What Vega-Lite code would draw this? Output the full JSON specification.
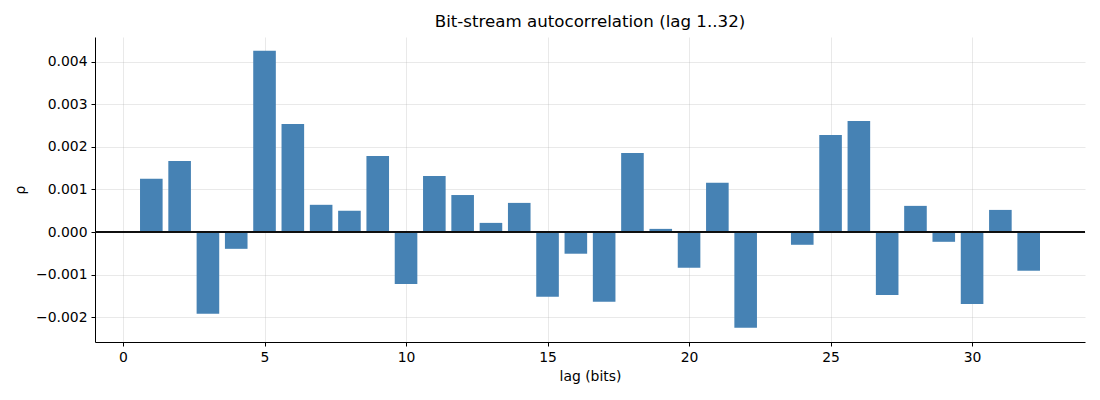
{
  "$schema": "https://vega.github.io/schema/vega-lite/v6.json",
  "autosize": "none",
  "width": 990,
  "height": 305,
  "padding": {"left": 95, "top": 37, "right": 15, "bottom": 58},
  "background": "white",
  "title": {
    "text": "Bit-stream autocorrelation (lag 1..32)",
    "font": "DejaVu Sans",
    "fontSize": 16.67,
    "fontWeight": "normal",
    "color": "black",
    "offset": 6
  },
  "config": {
    "font": "DejaVu Sans",
    "view": {"stroke": null},
    "axis": {
      "labelFont": "DejaVu Sans",
      "titleFont": "DejaVu Sans",
      "labelFontSize": 13.9,
      "titleFontSize": 13.9,
      "titleFontWeight": "normal",
      "labelColor": "black",
      "titleColor": "black",
      "domainColor": "black",
      "domainWidth": 1,
      "tickColor": "black",
      "tickSize": 4,
      "labelPadding": 4,
      "gridColor": "#b0b0b0",
      "gridOpacity": 0.35,
      "gridWidth": 0.8,
      "zindex": 1
    }
  },
  "data": {
    "values": [
      {"lag": 1, "rho": 0.00125},
      {"lag": 2, "rho": 0.00167},
      {"lag": 3, "rho": -0.00192},
      {"lag": 4, "rho": -0.000395},
      {"lag": 5, "rho": 0.00426},
      {"lag": 6, "rho": 0.00254},
      {"lag": 7, "rho": 0.00064},
      {"lag": 8, "rho": 0.0005},
      {"lag": 9, "rho": 0.00179},
      {"lag": 10, "rho": -0.00122},
      {"lag": 11, "rho": 0.00132},
      {"lag": 12, "rho": 0.00087},
      {"lag": 13, "rho": 0.000215},
      {"lag": 14, "rho": 0.000685},
      {"lag": 15, "rho": -0.00152},
      {"lag": 16, "rho": -0.00051},
      {"lag": 17, "rho": -0.00164},
      {"lag": 18, "rho": 0.00186},
      {"lag": 19, "rho": 0.000074},
      {"lag": 20, "rho": -0.00084},
      {"lag": 21, "rho": 0.00116},
      {"lag": 22, "rho": -0.00225},
      {"lag": 23, "rho": 0.000005},
      {"lag": 24, "rho": -0.0003},
      {"lag": 25, "rho": 0.00228},
      {"lag": 26, "rho": 0.00261},
      {"lag": 27, "rho": -0.00148},
      {"lag": 28, "rho": 0.000615},
      {"lag": 29, "rho": -0.00023},
      {"lag": 30, "rho": -0.00169},
      {"lag": 31, "rho": 0.00052},
      {"lag": 32, "rho": -0.00091}
    ]
  },
  "encoding": {
    "x": {
      "field": "lag",
      "type": "quantitative",
      "title": "lag (bits)",
      "scale": {"domain": [-0.99, 33.99], "nice": false, "zero": false, "padding": 0},
      "axis": {"values": [0, 5, 10, 15, 20, 25, 30], "format": "d", "titlePadding": 6}
    },
    "y": {
      "field": "rho",
      "type": "quantitative",
      "title": "ρ",
      "scale": {"domain": [-0.002586, 0.004586], "nice": false, "padding": 0},
      "axis": {
        "values": [-0.002, -0.001, 0, 0.001, 0.002, 0.003, 0.004],
        "format": ".3f",
        "titlePadding": 8
      }
    }
  },
  "layer": [
    {
      "mark": {"type": "bar", "width": 22.6, "color": "#4682b4"}
    },
    {
      "mark": {"type": "rule", "color": "#111111", "strokeWidth": 0.7},
      "encoding": {"y": {"datum": 0}, "x": null}
    }
  ]
}
